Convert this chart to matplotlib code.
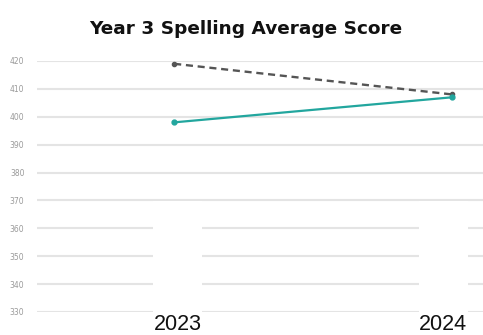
import matplotlib.pyplot as plt
from matplotlib.patches import Rectangle

years = ["2023", "2024"]
school_avg = [398, 407]
national_avg = [419, 408]
yticks = [330, 340, 350, 360, 370, 380, 390, 400, 410, 420]

fig = plt.figure(figsize=(4.83, 3.35), dpi=100)
ax = fig.add_axes([37 / 483, 1 - 312 / 335, 446 / 483, 251 / 335])

x = [0, 1]
ax.plot(x, national_avg, color="#555555", lw=1.7, ls=(0, (3, 2)),
        marker="o", ms=3, clip_on=False, zorder=3)
ax.plot(x, school_avg, color="#22a69e", lw=1.6,
        marker="o", ms=3.5, clip_on=False, zorder=4)

ax.set_xlim(-0.493, 1.11)
ax.set_ylim(330, 420)
ax.set_yticks(yticks)
ax.set_yticklabels([str(v) for v in yticks], fontsize=5.5, color="#9a9a9a")
ax.tick_params(axis="y", length=0, pad=9)
ax.set_xticks([])
ax.grid(axis="y", color="#e4e4e4", lw=1.5)
ax.set_axisbelow(True)
for s in ax.spines.values():
    s.set_visible(False)

# year labels with white backing that cuts the lower grid lines
for cx, label in [(177.5, years[0]), (443, years[1])]:
    w = 49
    fig.patches.append(Rectangle(((cx - w / 2) / 483, 0), w / 483, 1 - 200.5 / 335,
                                 transform=fig.transFigure, facecolor="white",
                                 edgecolor="none", zorder=2))
    fig.text(cx / 483, 1 - 330.5 / 335, label, ha="center", va="baseline",
             fontsize=15.5, family="Liberation Sans", color="#111111", zorder=5)

fig.text(246 / 483, 1 - 34 / 335, "Year 3 Spelling Average Score", ha="center",
         va="baseline", fontsize=13.3, fontweight="bold", family="DejaVu Sans", color="#111111")

fig.savefig("out.png", dpi=100)
